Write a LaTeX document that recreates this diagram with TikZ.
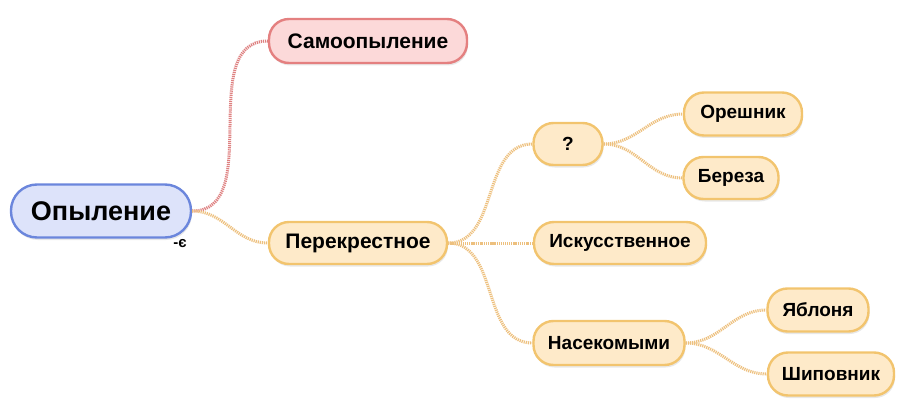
\documentclass[tikz,border=0pt]{standalone}
\usepackage{fontspec}
\setmainfont{Liberation Sans}
\usetikzlibrary{shadows}
\definecolor{rootfill}{HTML}{DDE3FA}
\definecolor{rootline}{HTML}{6B86DC}
\definecolor{selffill}{HTML}{FCD9D9}
\definecolor{selfline}{HTML}{E48080}
\definecolor{crossfill}{HTML}{FEEAC9}
\definecolor{crossline}{HTML}{F2C46E}
\definecolor{crossdot}{HTML}{EDC07E}
\definecolor{selfdot}{HTML}{DE8080}
\begin{document}
\begin{tikzpicture}[
  x=1pt, y=-1pt,
  % Node styles
  idea/.style={rounded corners=20pt, line width=2.4pt, font=\bfseries\fontsize{19}{22}\selectfont,
    minimum height=42pt, inner sep=2pt,
    drop shadow={opacity=0.18, shadow xshift=1pt, shadow yshift=-2.5pt}},
  root/.style={idea, fill=rootfill, draw=rootline, rounded corners=26pt, minimum height=53pt,
    font=\bfseries\fontsize{27}{30}\selectfont},
  selfnode/.style={idea, fill=selffill, draw=selfline, font=\bfseries\fontsize{21}{24}\selectfont},
  crossnode/.style={idea, fill=crossfill, draw=crossline},
  % Edge styles
  link/.style={line width=3pt, dash pattern=on 1.2pt off 0.9pt, crossdot},
  selflink/.style={link, selfdot},
]

\useasboundingbox (0,0) rectangle (910,409);

% === ROOT ===
\node[root, minimum width=180pt] (opyl) at (101,211) {Опыление};
\node[font=\bfseries\fontsize{15}{16}\selectfont, inner sep=0pt] (fold) at (180,244) {-є};

% === FIRST LEVEL ===
\node[selfnode, minimum width=198pt, minimum height=44pt] (samo) at (368,41) {Самоопыление};
\node[crossnode, minimum width=178pt, font=\bfseries\fontsize{21}{24}\selectfont] (perekr) at (358,243) {Перекрестное};

% === SECOND LEVEL ===
\node[crossnode, minimum width=69pt] (vopros) at (568,144) {?};
\node[crossnode, minimum width=172pt] (iskus) at (620,243) {Искусственное};
\node[crossnode, minimum width=151pt, minimum height=44pt] (nasek) at (609,343) {Насекомыми};

% === THIRD LEVEL ===
\node[crossnode, minimum width=118pt, minimum height=43pt] (oresh) at (743,114) {Орешник};
\node[crossnode, minimum width=95pt] (bereza) at (731,178) {Береза};
\node[crossnode, minimum width=101pt, minimum height=43pt] (yablon) at (818,310) {Яблоня};
\node[crossnode, minimum width=126pt, minimum height=43pt] (shipov) at (831,374) {Шиповник};

% === CONNECTORS ===
\draw[selflink] (opyl.east) to[out=0, in=180] (samo.west);
\draw[link] (opyl.east) to[out=0, in=180] (perekr.west);
\draw[link] (perekr.east) to[out=0, in=180] (vopros.west);
\draw[link] (perekr.east) to[out=0, in=180] (iskus.west);
\draw[link] (perekr.east) to[out=0, in=180] (nasek.west);
\draw[link] (vopros.east) to[out=0, in=180] (oresh.west);
\draw[link] (vopros.east) to[out=0, in=180] (bereza.west);
\draw[link] (nasek.east) to[out=0, in=180] (yablon.west);
\draw[link] (nasek.east) to[out=0, in=180] (shipov.west);

\end{tikzpicture}
\end{document}
